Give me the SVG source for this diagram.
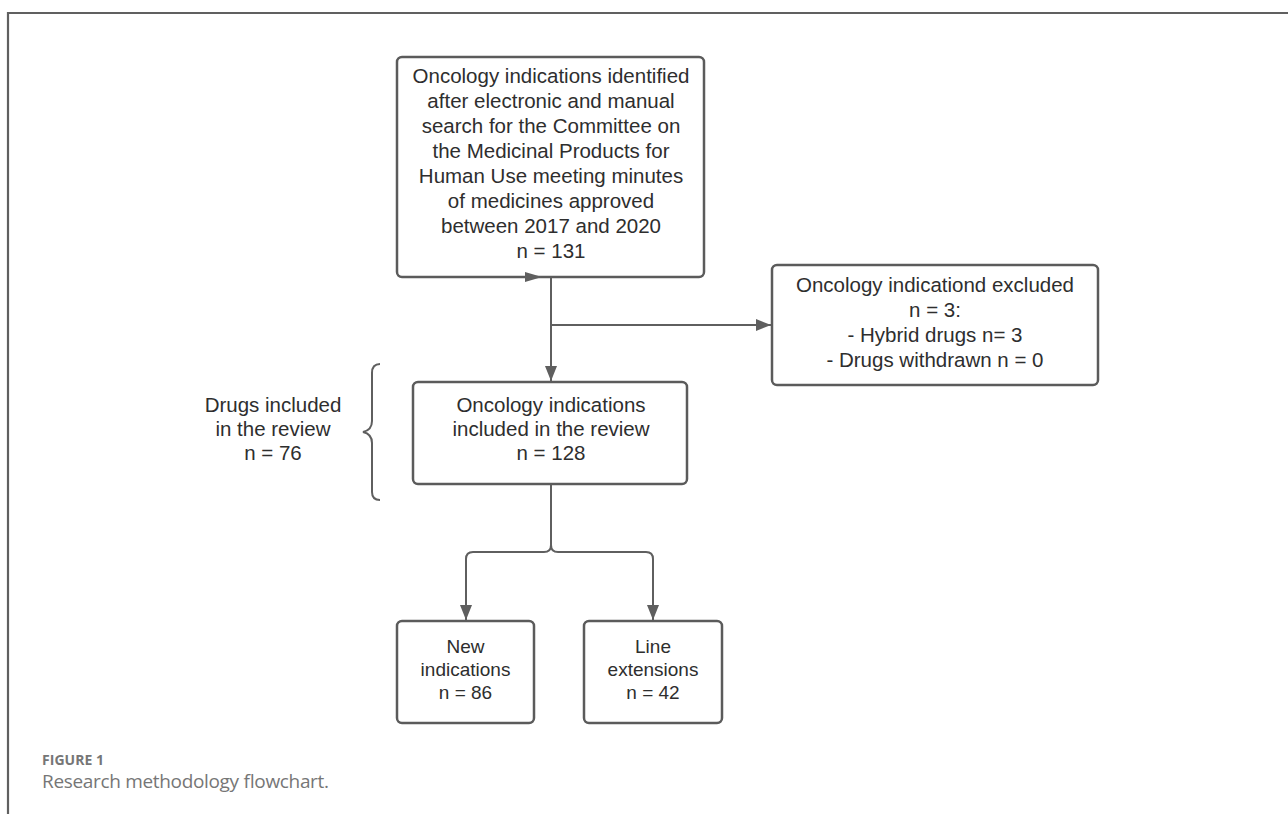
<svg xmlns="http://www.w3.org/2000/svg" width="1288" height="814" viewBox="0 0 1288 814">
<style>
.box{fill:#fff;stroke:#5b5b5b;stroke-width:2.5}
.t{font-family:"Liberation Sans",Arial,sans-serif;font-size:20.5px;fill:#2e2e2e;text-anchor:middle}
.ts{font-family:"Liberation Sans",Arial,sans-serif;font-size:19px;fill:#2e2e2e;text-anchor:middle}
.c{fill:none;stroke:#5f5f5f;stroke-width:2}
.cap{font-family:"Open Sans","Liberation Sans",sans-serif;fill:#767676}
</style>
<defs>
<marker id="ah" markerUnits="userSpaceOnUse" markerWidth="16" markerHeight="12" refX="15" refY="6" orient="auto">
<path d="M0,0 L15,6 L0,12 z" fill="#5f5f5f"/>
</marker>
</defs>
<rect width="1288" height="814" fill="#fff"/>
<g id="frame">
<path d="M8,814 V13 H1288" fill="none" stroke="#606060" stroke-width="2.2"/>
</g>
<g id="n-identified">
<rect class="box" x="397" y="57" width="307" height="220" rx="5"/>
<text class="t" x="551" y="83">Oncology indications identified</text>
<text class="t" x="551" y="108">after electronic and manual</text>
<text class="t" x="551" y="133">search for the Committee on</text>
<text class="t" x="551" y="158">the Medicinal Products for</text>
<text class="t" x="551" y="183">Human Use meeting minutes</text>
<text class="t" x="551" y="208">of medicines approved</text>
<text class="t" x="551" y="233">between 2017 and 2020</text>
<text class="t" x="551" y="258">n = 131</text>
</g>
<g id="n-excluded">
<rect class="box" x="772" y="265" width="326" height="120" rx="5"/>
<text class="t" x="935" y="292">Oncology indicationd excluded</text>
<text class="t" x="935" y="317">n = 3:</text>
<text class="t" x="935" y="342">- Hybrid drugs n= 3</text>
<text class="t" x="935" y="367">- Drugs withdrawn n = 0</text>
</g>
<g id="n-included">
<rect class="box" x="413" y="382" width="274" height="102" rx="5"/>
<text class="t" x="551" y="412">Oncology indications</text>
<text class="t" x="551" y="436">included in the review</text>
<text class="t" x="551" y="460">n = 128</text>
</g>
<g id="n-drugs">
<text class="t" x="273" y="412">Drugs included</text>
<text class="t" x="273" y="436">in the review</text>
<text class="t" x="273" y="460">n = 76</text>
<path d="M380,364 Q372,364 372,373 V421 Q372,430 363,432 Q372,434 372,443 V492 Q372,500 380,500" fill="none" stroke="#5f5f5f" stroke-width="2"/>
</g>
<g id="n-new">
<rect class="box" x="397" y="621" width="137" height="102" rx="5"/>
<text class="ts" x="465.5" y="653">New</text>
<text class="ts" x="465.5" y="676">indications</text>
<text class="ts" x="465.5" y="699">n = 86</text>
</g>
<g id="n-line">
<rect class="box" x="584" y="621" width="138" height="102" rx="5"/>
<text class="ts" x="653" y="653">Line</text>
<text class="ts" x="653" y="676">extensions</text>
<text class="ts" x="653" y="699">n = 42</text>
</g>
<g id="connectors">
<path class="c" d="M551,278 V381" marker-end="url(#ah)"/>
<path class="c" d="M551,325 H771" marker-end="url(#ah)"/>
<path d="M525,272 L542,277 L525,282 z" fill="#5f5f5f"/>
<path class="c" d="M551,485 V545 Q551,552 544,552 H473 Q466,552 466,559 V620" marker-end="url(#ah)"/>
<path class="c" d="M551,545 Q551,552 558,552 H646 Q653,552 653,559 V620" marker-end="url(#ah)"/>
</g>
<g id="caption">
<text class="cap" x="42" y="765" font-size="14" font-weight="bold" textLength="62">FIGURE 1</text>
<text class="cap" x="42" y="788" font-size="19" textLength="287">Research methodology flowchart.</text>
</g>
</svg>
